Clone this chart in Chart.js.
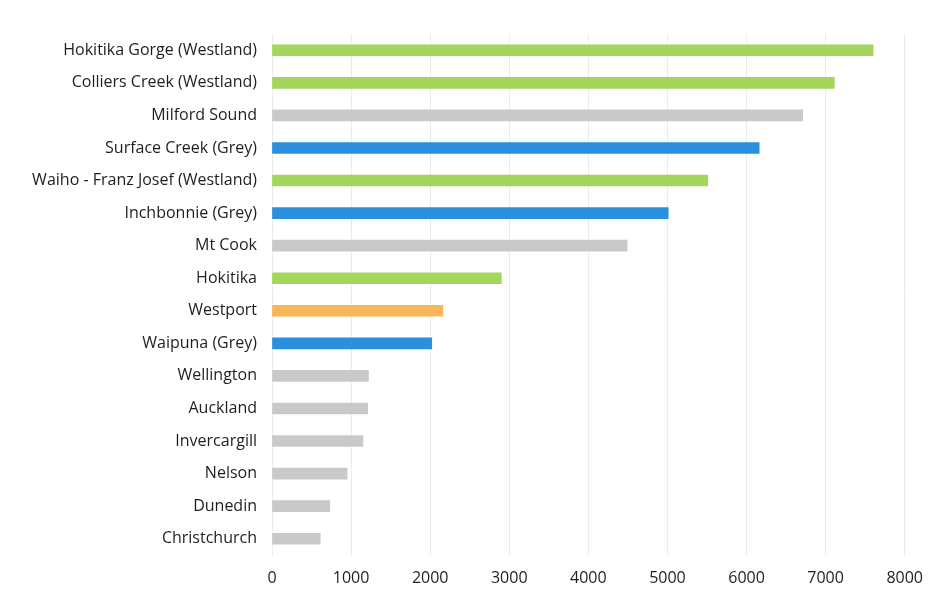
<!DOCTYPE html>
<html>
<head>
<meta charset="utf-8">
<script src="https://cdn.jsdelivr.net/npm/chart.js@4.4.0/dist/chart.umd.min.js"></script>
<style>
    html, body { margin: 0; padding: 0; background: #fff; }
    #wrap { width: 937px; height: 594px; }
</style>
</head>
<body>
<div id="wrap"><canvas id="rainChart" width="937" height="594"></canvas></div>
<script>
// rainfall sites, top to bottom
const sites = [
    'Hokitika Gorge (Westland)', 'Colliers Creek (Westland)', 'Milford Sound',
    'Surface Creek (Grey)', 'Waiho - Franz Josef (Westland)', 'Inchbonnie (Grey)',
    'Mt Cook', 'Hokitika', 'Westport', 'Waipuna (Grey)', 'Wellington',
    'Auckland', 'Invercargill', 'Nelson', 'Dunedin', 'Christchurch'
];
const rainfall = [7600, 7110, 6710, 6160, 5510, 5010, 4490, 2900, 2160, 2020, 1220, 1210, 1150, 950, 730, 610];
const groups = ['Westland', 'Westland', 'Other', 'Grey', 'Westland', 'Grey', 'Other', 'Westland',
    'Westport', 'Grey', 'Other', 'Other', 'Other', 'Other', 'Other', 'Other'];
const xTicks = [0, 1000, 2000, 3000, 4000, 5000, 6000, 7000, 8000];

const groupColours = {
    Westland: '#a3d65a',
    Grey: '#2a90de',
    Westport: '#f8b658',
    Other: '#c9c9c9'
};

const ctx = document.getElementById('rainChart').getContext('2d');
new Chart(ctx, {
    type: 'bar',
    data: {
        labels: sites,
        datasets: [{
            data: rainfall,
            backgroundColor: groups.map(g => groupColours[g]),
            barThickness: 11,
            borderWidth: 0
        }]
    },
    options: {
        indexAxis: 'y',
        responsive: false,
        animation: false,
        layout: { padding: { left: 4, right: 28, top: 34, bottom: 0 } },
        plugins: { legend: { display: false }, tooltip: { enabled: false } },
        scales: {
            x: {
                min: 0,
                max: 8000,
                afterBuildTicks: axis => { axis.ticks = xTicks.map(v => ({ value: v })); },
                afterFit: axis => { axis.height = 39; },
                grid: { color: '#ebebeb', drawTicks: false },
                border: { display: false },
                ticks: {
                    color: '#1e1e1e',
                    padding: 14,
                    maxRotation: 0,
                    callback: v => String(v),
                    font: { family: 'Open Sans', size: 16 }
                }
            },
            y: {
                grid: { display: false, drawTicks: false },
                border: { display: false },
                afterFit: axis => { axis.width = 268; },
                ticks: {
                    color: '#1e1e1e',
                    padding: 15,
                    font: { family: 'Open Sans', size: 16 }
                }
            }
        }
    }
});
</script>
</body>
</html>
